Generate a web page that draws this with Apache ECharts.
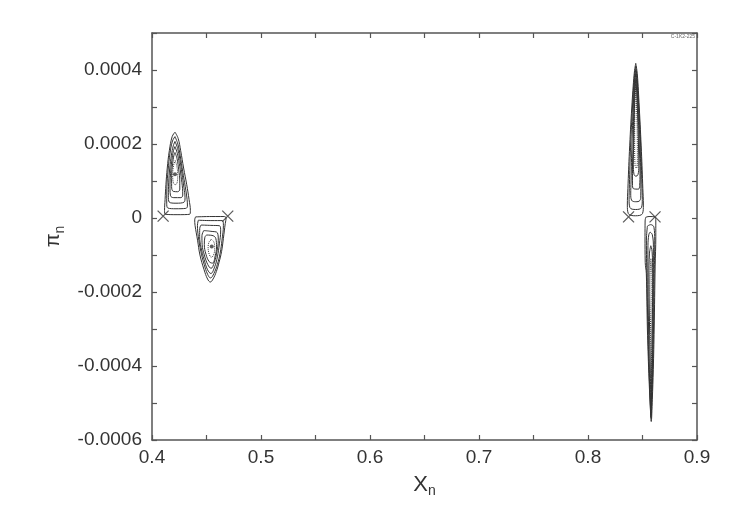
<!DOCTYPE html>
<html>
<head>
<meta charset="utf-8">
<script src="https://cdn.jsdelivr.net/npm/echarts@6/dist/echarts.min.js"></script>
<style>
  html, body { margin: 0; padding: 0; background: #fff; }
  #chart { width: 747px; height: 528px; }
</style>
</head>
<body>
<div id="chart"></div>
<script>
// island around x ~ 0.42, pi > 0
const loopA1 = [[0.4211,0.000232],[0.4240,0.000215],[0.4263,0.000182],[0.4290,0.000135],[0.4318,0.000091],[0.4340,0.000050],[0.4352,0.000020],[0.4345,0.000010],[0.4230,0.000009],[0.4125,0.000010],[0.4115,0.000020],[0.4120,0.000050],[0.4128,0.000091],[0.4140,0.000135],[0.4159,0.000182],[0.4185,0.000220],[0.4211,0.000232]];
const loopA2 = [[0.4211,0.000220],[0.4237,0.000200],[0.4258,0.000170],[0.4282,0.000125],[0.4305,0.000085],[0.4322,0.000050],[0.4325,0.000032],[0.4310,0.000026],[0.4220,0.000025],[0.4145,0.000027],[0.4135,0.000040],[0.4137,0.000085],[0.4148,0.000130],[0.4165,0.000175],[0.4188,0.000208],[0.4211,0.000220]];
const loopA3 = [[0.4211,0.000207],[0.4235,0.000188],[0.4255,0.000160],[0.4275,0.000120],[0.4293,0.000082],[0.4303,0.000055],[0.4295,0.000043],[0.4220,0.000040],[0.4158,0.000043],[0.4150,0.000060],[0.4153,0.000095],[0.4163,0.000135],[0.4178,0.000170],[0.4195,0.000195],[0.4211,0.000207]];
const loopA4 = [[0.4211,0.000193],[0.4232,0.000175],[0.4250,0.000148],[0.4267,0.000112],[0.4280,0.000080],[0.4282,0.000062],[0.4265,0.000055],[0.4200,0.000055],[0.4170,0.000060],[0.4165,0.000080],[0.4170,0.000120],[0.4182,0.000155],[0.4197,0.000182],[0.4211,0.000193]];
const loopA5 = [[0.4211,0.000177],[0.4230,0.000160],[0.4245,0.000130],[0.4255,0.000100],[0.4255,0.000078],[0.4235,0.000071],[0.4195,0.000072],[0.4180,0.000085],[0.4180,0.000115],[0.4190,0.000148],[0.4200,0.000168],[0.4211,0.000177]];
const loopA6 = [[0.4213,0.000155],[0.4228,0.000140],[0.4236,0.000115],[0.4230,0.000095],[0.4213,0.000090],[0.4195,0.000097],[0.4190,0.000118],[0.4198,0.000142],[0.4213,0.000155]];

// island around x ~ 0.455, pi < 0
const loopB1 = [[0.4400,0.000003],[0.4550,0.000004],[0.4660,0.000004],[0.4680,0.000000],[0.4672,-0.000015],[0.4655,-0.000055],[0.4638,-0.000091],[0.4615,-0.000120],[0.4590,-0.000145],[0.4560,-0.000165],[0.4535,-0.000173],[0.4510,-0.000165],[0.4478,-0.000140],[0.4440,-0.000100],[0.4418,-0.000060],[0.4395,-0.000020],[0.4392,-0.000005],[0.4400,0.000003]];
const loopB2 = [[0.4425,-0.000006],[0.4540,-0.000007],[0.4645,-0.000007],[0.4655,-0.000020],[0.4642,-0.000060],[0.4625,-0.000095],[0.4600,-0.000125],[0.4568,-0.000150],[0.4537,-0.000162],[0.4510,-0.000152],[0.4478,-0.000125],[0.4448,-0.000090],[0.4425,-0.000050],[0.4417,-0.000020],[0.4425,-0.000006]];
const loopB3 = [[0.4450,-0.000019],[0.4540,-0.000020],[0.4620,-0.000021],[0.4630,-0.000035],[0.4618,-0.000070],[0.4600,-0.000105],[0.4575,-0.000132],[0.4540,-0.000150],[0.4510,-0.000140],[0.4478,-0.000112],[0.4450,-0.000080],[0.4437,-0.000050],[0.4438,-0.000028],[0.4450,-0.000019]];
const loopB4 = [[0.4475,-0.000034],[0.4540,-0.000036],[0.4600,-0.000040],[0.4608,-0.000060],[0.4595,-0.000092],[0.4572,-0.000120],[0.4542,-0.000136],[0.4512,-0.000126],[0.4480,-0.000100],[0.4460,-0.000072],[0.4458,-0.000048],[0.4475,-0.000034]];
const loopB5 = [[0.4500,-0.000046],[0.4550,-0.000047],[0.4585,-0.000055],[0.4592,-0.000078],[0.4580,-0.000102],[0.4555,-0.000122],[0.4525,-0.000118],[0.4495,-0.000098],[0.4480,-0.000072],[0.4485,-0.000052],[0.4500,-0.000046]];
const loopB6 = [[0.4545,-0.000058],[0.4568,-0.000065],[0.4575,-0.000082],[0.4565,-0.000100],[0.4545,-0.000106],[0.4525,-0.000098],[0.4515,-0.000080],[0.4525,-0.000064],[0.4545,-0.000058]];

// island around x ~ 0.844, pi > 0
const loopC1 = [[0.8438,0.000418],[0.8452,0.000390],[0.8470,0.000300],[0.8490,0.000180],[0.8503,0.000080],[0.8508,0.000035],[0.8500,0.000012],[0.8435,0.000006],[0.8370,0.000012],[0.8361,0.000035],[0.8366,0.000080],[0.8380,0.000180],[0.8402,0.000300],[0.8424,0.000390],[0.8438,0.000418]];
const loopC2 = [[0.8438,0.000410],[0.8450,0.000380],[0.8466,0.000300],[0.8484,0.000190],[0.8495,0.000090],[0.8498,0.000050],[0.8490,0.000028],[0.8437,0.000023],[0.8385,0.000028],[0.8377,0.000050],[0.8380,0.000090],[0.8390,0.000190],[0.8408,0.000300],[0.8425,0.000380],[0.8438,0.000410]];
const loopC3 = [[0.8438,0.000400],[0.8449,0.000370],[0.8462,0.000300],[0.8477,0.000200],[0.8485,0.000100],[0.8484,0.000060],[0.8475,0.000047],[0.8438,0.000044],[0.8400,0.000048],[0.8392,0.000065],[0.8395,0.000100],[0.8403,0.000200],[0.8415,0.000300],[0.8427,0.000370],[0.8438,0.000400]];
const loopC4 = [[0.8438,0.000390],[0.8448,0.000360],[0.8458,0.000300],[0.8470,0.000200],[0.8477,0.000120],[0.8474,0.000088],[0.8462,0.000078],[0.8418,0.000079],[0.8408,0.000092],[0.8408,0.000130],[0.8414,0.000200],[0.8421,0.000300],[0.8430,0.000360],[0.8438,0.000390]];
const loopC5 = [[0.8438,0.000375],[0.8447,0.000340],[0.8455,0.000280],[0.8463,0.000200],[0.8466,0.000140],[0.8458,0.000117],[0.8440,0.000113],[0.8422,0.000118],[0.8416,0.000145],[0.8419,0.000200],[0.8425,0.000280],[0.8431,0.000340],[0.8438,0.000375]];
const loopC6 = [[0.8440,0.000360],[0.8446,0.000300],[0.8452,0.000220],[0.8453,0.000160],[0.8445,0.000135],[0.8432,0.000140],[0.8428,0.000200],[0.8430,0.000290],[0.8435,0.000340],[0.8440,0.000360]];

// island around x ~ 0.857, pi < 0
const loopD1 = [[0.8530,0.000002],[0.8560,0.000004],[0.8612,0.000003],[0.8622,-0.000008],[0.8622,-0.000050],[0.8616,-0.000130],[0.8607,-0.000300],[0.8599,-0.000410],[0.8590,-0.000490],[0.8580,-0.000550],[0.8570,-0.000500],[0.8558,-0.000420],[0.8545,-0.000300],[0.8535,-0.000150],[0.8525,-0.000120],[0.8523,-0.000050],[0.8524,-0.000008],[0.8530,0.000002]];
const loopD2 = [[0.8545,-0.000022],[0.8575,-0.000018],[0.8605,-0.000025],[0.8612,-0.000060],[0.8608,-0.000150],[0.8601,-0.000300],[0.8594,-0.000410],[0.8586,-0.000490],[0.8578,-0.000540],[0.8570,-0.000490],[0.8560,-0.000410],[0.8550,-0.000300],[0.8540,-0.000160],[0.8536,-0.000060],[0.8545,-0.000022]];
const loopD3 = [[0.8570,-0.000038],[0.8590,-0.000045],[0.8600,-0.000080],[0.8600,-0.000160],[0.8596,-0.000300],[0.8590,-0.000410],[0.8583,-0.000490],[0.8577,-0.000530],[0.8571,-0.000490],[0.8563,-0.000410],[0.8556,-0.000300],[0.8549,-0.000160],[0.8550,-0.000075],[0.8558,-0.000045],[0.8570,-0.000038]];
const loopD4 = [[0.8576,-0.000075],[0.8588,-0.000090],[0.8593,-0.000150],[0.8590,-0.000300],[0.8585,-0.000420],[0.8578,-0.000510],[0.8572,-0.000420],[0.8565,-0.000300],[0.8559,-0.000160],[0.8564,-0.000095],[0.8576,-0.000075]];
const loopD5 = [[0.8577,-0.000110],[0.8586,-0.000160],[0.8585,-0.000300],[0.8580,-0.000450],[0.8574,-0.000300],[0.8568,-0.000180],[0.8577,-0.000110]];

const centerDots = [[0.4211,0.000118],[0.4548,-0.0000773]];
const crossPoints = [[0.4102,0.000005],[0.4695,0.000005],[0.8372,0.000003],[0.8615,0.000003]];

const solidLoops = [loopA1, loopA2, loopA3, loopA4, loopA5, loopB1, loopB2, loopB3, loopB4, loopB5,
  loopC1, loopC2, loopC3, loopC4, loopC5, loopD1, loopD2, loopD3, loopD4];
const dottedLoops = [loopA6, loopB6, loopC6, loopD5];

const ink = '#333';
const axisColor = '#555';
const fontFamily = 'Liberation Sans, Arial, sans-serif';

const chart = echarts.init(document.getElementById('chart'));

const series = [];
solidLoops.forEach(d => series.push({
  type: 'line', data: d, smooth: 0.4, symbol: 'none', silent: true,
  lineStyle: { color: ink, width: 1 }
}));
dottedLoops.forEach(d => series.push({
  type: 'line', data: d, smooth: 0.4, symbol: 'none', silent: true,
  lineStyle: { color: ink, width: 1, type: 'dotted' }
}));
series.push({
  type: 'scatter', data: centerDots, symbolSize: 4,
  itemStyle: { color: ink }
});
series.push({
  type: 'scatter', data: crossPoints, symbol: 'path://M0,0L10,10M10,0L0,10', symbolSize: 11,
  itemStyle: { color: 'none', borderColor: ink, borderWidth: 1.3 }
});

const labelFont = { color: '#333', fontSize: 19, fontFamily: fontFamily };

// shared look of the four frame sides
function frameAxis(extra) {
  return Object.assign({
    type: 'value',
    axisLine: { show: true, onZero: false, lineStyle: { color: axisColor, width: 1.5 } },
    axisTick: { show: true, inside: true, length: 5, lineStyle: { color: axisColor, width: 1.2 } },
    splitLine: { show: false }
  }, extra);
}

const option = {
  animation: false,
  backgroundColor: '#fff',
  grid: { left: 152, right: 50, top: 33, bottom: 88 },
  xAxis: [frameAxis({
    min: 0.4, max: 0.9, interval: 0.05, position: 'bottom',
    axisLabel: {
      ...labelFont, margin: 8, showMinLabel: true, showMaxLabel: true,
      formatter: v => (Math.round(v * 100) % 10 === 0 ? (Math.round(v * 10) / 10).toFixed(1) : '')
    },
    name: '{a|X}{b|n}', nameLocation: 'middle', nameGap: 32,
    nameTextStyle: {
      rich: {
        a: { fontSize: 22, color: '#333', fontFamily: fontFamily },
        b: { fontSize: 14, color: '#333', fontFamily: fontFamily, padding: [12, 0, 0, 0] }
      }
    }
  }), frameAxis({
    min: 0.4, max: 0.9, interval: 0.05, position: 'top',
    axisLabel: { show: false }
  })],
  yAxis: [frameAxis({
    min: -0.0006, max: 0.0005, interval: 0.0001, position: 'left',
    axisLabel: {
      ...labelFont, margin: 10,
      formatter: v => {
        const k = Math.round(v * 10000);
        if (k % 2 !== 0) return '';
        return k === 0 ? '0' : (k / 10000).toFixed(4);
      }
    },
    name: '{a|π}{b|n}', nameLocation: 'middle', nameGap: 72,
    nameTextStyle: {
      rich: {
        a: { fontSize: 20, color: '#333', fontFamily: fontFamily },
        b: { fontSize: 14, color: '#333', fontFamily: fontFamily, padding: [12, 0, 0, 0] }
      }
    }
  }), frameAxis({
    min: -0.0006, max: 0.0005, interval: 0.0001, position: 'right',
    axisLabel: { show: false }
  })],
  graphic: [{
    type: 'text', right: 52, top: 34,
    style: { text: 'C-1K2-225', fontSize: 5, fill: '#666', fontFamily: fontFamily }
  }],
  series: series
};

chart.setOption(option);
</script>
</body>
</html>
